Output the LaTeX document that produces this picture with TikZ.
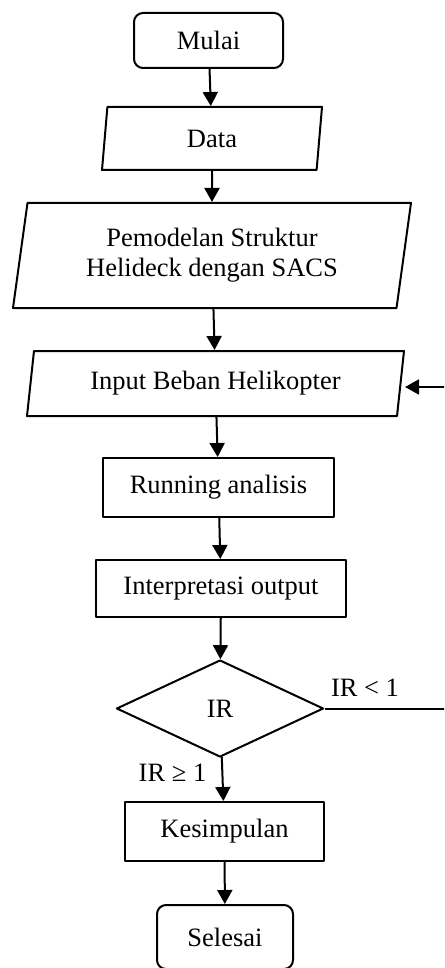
\documentclass[tikz,border=0pt]{standalone}
\usepackage{fontspec}
\setmainfont{Liberation Serif}
\usetikzlibrary{shapes.geometric,arrows.meta}
\begin{document}
\begin{tikzpicture}[line join=round, line cap=round, >={Triangle[length=14pt,width=15pt]}, x=1pt, y=-1pt]
    \tikzset{box style/.style={draw, line width=2pt, font=\fontsize{26.5pt}{30pt}\selectfont, inner sep=2pt},
        term/.style={box style, rounded corners=9pt, minimum width=149pt, minimum height=55pt},
        io/.style={box style, trapezium, trapezium left angle=76, trapezium right angle=104, trapezium stretches body},
        proc/.style={box style, rectangle},
        cek/.style={box style, diamond, minimum width=207pt, minimum height=97pt, inner sep=0pt},
        lbl/.style={font=\fontsize{26.5pt}{30pt}\selectfont, inner sep=0pt},
        panah/.style={->, line width=2pt}}
    \def \xmax{444}
    \def \ymax{968}
    \def \xloop{446}
    \useasboundingbox (0,0) rectangle (\xmax,\ymax);
    \clip (0,0) rectangle (\xmax,\ymax);
    \node[term] (mulai) at (208.5,40.5) {Mulai};
    \node[io, minimum width=220pt, minimum height=63pt] (data) at (212,138.5) {Data};
    \node[io, minimum width=398pt, minimum height=105pt, align=center] (model) at (212,255.5) {Pemodelan Struktur\\Helideck dengan SACS};
    \node[io, minimum width=377pt, minimum height=65pt] (beban) at (215.5,383.5) {Input Beban Helikopter};
    \node[proc, minimum width=231pt, minimum height=59pt] (run) at (218.5,487.5) {Running analisis};
    \node[proc, minimum width=250pt, minimum height=57pt] (interp) at (221,588.5) {Interpretasi output};
    \node[cek] (ir) at (220,708.5) {IR};
    \node[proc, minimum width=199pt, minimum height=59pt] (kesimpulan) at (224.5,831.5) {Kesimpulan};
    \node[term, minimum width=136pt, minimum height=64pt] (selesai) at (225,937) {Selesai};
    \node[lbl, anchor=base] (kurang) at (365,696) {IR < 1};
    \node[lbl, anchor=base] (lebih) at (172.5,781) {IR ≥ 1};
    \coordinate (balik) at (405,387);
    \draw[panah] (mulai) -- (data);
    \draw[panah] (data) -- (model);
    \draw[panah] (model) -- (beban);
    \draw[panah] (beban) -- (run);
    \draw[panah] (run) -- (interp);
    \draw[panah] (interp) -- (ir);
    \draw[panah] (ir) -- (kesimpulan);
    \draw[panah] (kesimpulan) -- (selesai);
    \draw[panah, line cap=butt, line join=miter] (ir.east) -- (\xloop,708.5) |- (balik);
\end{tikzpicture}
\end{document}
